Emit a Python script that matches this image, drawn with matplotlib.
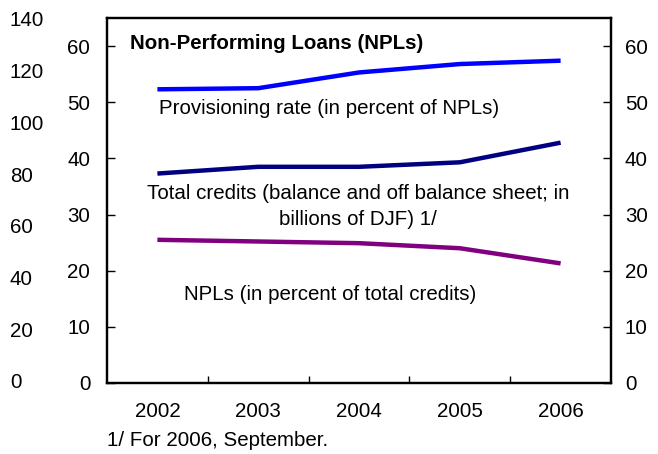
import matplotlib
matplotlib.use("Agg")
import matplotlib.pyplot as plt
import numpy as np

plt.rcParams["font.family"] = ["Liberation Sans", "DejaVu Sans"]
FS = 14.8
plt.rcParams["font.size"] = FS

years = ["2002", "2003", "2004", "2005", "2006"]
provisioning_rate = [52.3, 52.5, 55.3, 56.8, 57.4]
total_credits = [37.3, 38.5, 38.5, 39.3, 42.8]
npl_share = [25.5, 25.2, 24.9, 24.0, 21.3]
outer_ticks = [0, 20, 40, 60, 80, 100, 120, 140]
inner_ticks = [0, 10, 20, 30, 40, 50, 60]

W, H = 658, 454
fig = plt.figure(figsize=(W / 100, H / 100), dpi=100)

left, right, bottom, top = 107, 611, 383, 18
rect = [left / W, (H - bottom) / H, (right - left) / W, (bottom - top) / H]
ax = fig.add_axes(rect)

x = np.arange(len(years))
ax.plot(x, provisioning_rate, color="#0000FF", lw=3.2, solid_capstyle="butt")
ax.plot(x, total_credits, color="#000080", lw=3.2, solid_capstyle="butt")
ax.plot(x, npl_share, color="#800080", lw=3.2, solid_capstyle="butt")

ax.set_xlim(-0.5, len(years) - 0.5)
ax.set_ylim(0, 65)
ax.set_yticks(inner_ticks)
ax.set_xticks(x)
ax.set_xticklabels(years)
ax.set_xticks(np.arange(0.5, len(years) - 1, 1.0), minor=True)
ax.tick_params(axis="x", which="major", length=0, pad=14, labelsize=FS)
ax.tick_params(axis="x", which="minor", direction="in", length=5, width=1)
ax.tick_params(axis="y", direction="in", length=6, width=1, pad=12, labelsize=FS)
for s in ax.spines.values():
    s.set_linewidth(1.6)

# duplicate scale on the right
axr = ax.twinx()
axr.set_ylim(ax.get_ylim())
axr.set_yticks(inner_ticks)
axr.tick_params(axis="y", direction="in", length=6, width=1, pad=10, labelsize=FS)
for s in axr.spines.values():
    s.set_linewidth(1.6)

# outer scale on the far left
left2, bottom2, top2 = 107, 381, 19
ax2 = fig.add_axes([left2 / W, (H - bottom2) / H, (right - left2) / W, (bottom2 - top2) / H],
                   frameon=False)
ax2.set_ylim(0, 140)
ax2.set_yticks(outer_ticks)
ax2.set_xticks([])
ax2.tick_params(axis="y", length=0, pad=70, labelsize=FS)
for lbl in ax2.get_yticklabels():
    lbl.set_horizontalalignment("left")
ax2.patch.set_alpha(0)

ax.text(-0.272, 60.4, "Non-Performing Loans (NPLs)", fontsize=FS, fontweight="bold",
        ha="left", va="center")
ax.text(0.016, 48.8, "Provisioning rate (in percent of NPLs)", fontsize=FS,
        ha="left", va="center")
ax.text(1.99, 33.8, "Total credits (balance and off balance sheet; in",
        fontsize=FS, ha="center", va="center")
ax.text(1.99, 29.2, "billions of DJF) 1/", fontsize=FS, ha="center", va="center")
ax.text(1.71, 15.7, "NPLs (in percent of total credits)", fontsize=FS,
        ha="center", va="center")

fig.text(107 / W, (H - 440) / H, "1/ For 2006, September.", fontsize=FS,
         ha="left", va="center")

fig.savefig("out.png", dpi=100)
